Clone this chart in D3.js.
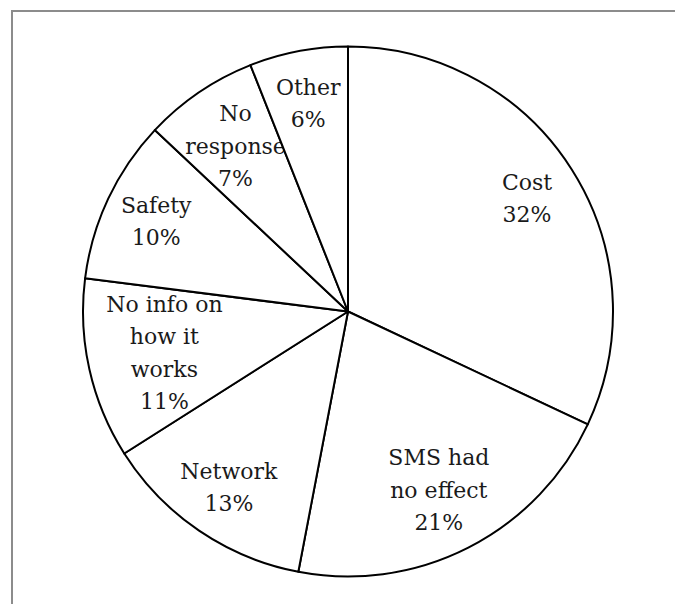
<!DOCTYPE html>
<html>
<head>
<meta charset="utf-8">
<script src="https://cdn.jsdelivr.net/npm/d3@7"></script>
<style>
  html, body { margin: 0; padding: 0; background: #fff; }
  svg { display: block; }
</style>
</head>
<body>
<svg id="chart"></svg>
<script>
const width = 675;
const height = 604;

// Reasons, clockwise from 12 o'clock
const categories = ["Cost", "SMS had no effect", "Network", "No info on how it works", "Safety", "No response", "Other"];
const values = [32, 21, 13, 11, 10, 7, 6];
// how each label wraps inside its slice
const labelLines = [
  ["Cost"],
  ["SMS had", "no effect"],
  ["Network"],
  ["No info on", "how it", "works"],
  ["Safety"],
  ["No", "response"],
  ["Other"]
];

const svg = d3.select("#chart")
  .attr("width", width)
  .attr("height", height)
  .attr("viewBox", `0 0 ${width} ${height}`);

svg.append("rect")
  .attr("width", width)
  .attr("height", height)
  .attr("fill", "#fff");

// frame, cut off on the right and at the bottom
svg.append("rect")
  .attr("x", 12)
  .attr("y", 11)
  .attr("width", 800)
  .attr("height", 800)
  .attr("fill", "none")
  .attr("stroke", "#8c8c8c")
  .attr("stroke-width", 2);

const cx = 348, cy = 311.5, radius = 265;
const fontSize = 22, lineHeight = 32.5;

const data = categories.map((c, i) => ({ name: c, value: values[i], lines: labelLines[i] }));

const pie = d3.pie()
  .value(d => d.value)
  .sort(null);

const arc = d3.arc()
  .innerRadius(0)
  .outerRadius(radius);

const g = svg.append("g").attr("transform", `translate(${cx},${cy})`);

const slices = g.selectAll("g.slice")
  .data(pie(data))
  .join("g")
  .attr("class", "slice");

slices.append("path")
  .attr("d", arc)
  .attr("fill", "#fff")
  .attr("stroke", "#000")
  .attr("stroke-width", 2)
  .attr("stroke-linejoin", "round");

// labels sit a bit further in when they take more lines
slices.append("text")
  .attr("font-family", "'DejaVu Serif', 'Liberation Serif', serif")
  .attr("font-size", fontSize)
  .attr("fill", "#1a1a1a")
  .attr("text-anchor", "middle")
  .each(function (d) {
    const lines = d.data.lines.concat([d.data.value + "%"]);
    const r = radius * (0.89 - 0.045 * lines.length);
    const [x, y] = d3.arc().innerRadius(r).outerRadius(r).centroid(d);
    const y0 = y - (lines.length - 1) * lineHeight / 2 + fontSize * 0.36;
    d3.select(this).selectAll("tspan")
      .data(lines)
      .join("tspan")
      .attr("x", x)
      .attr("y", (t, i) => y0 + i * lineHeight)
      .text(t => t);
  });
</script>
</body>
</html>
